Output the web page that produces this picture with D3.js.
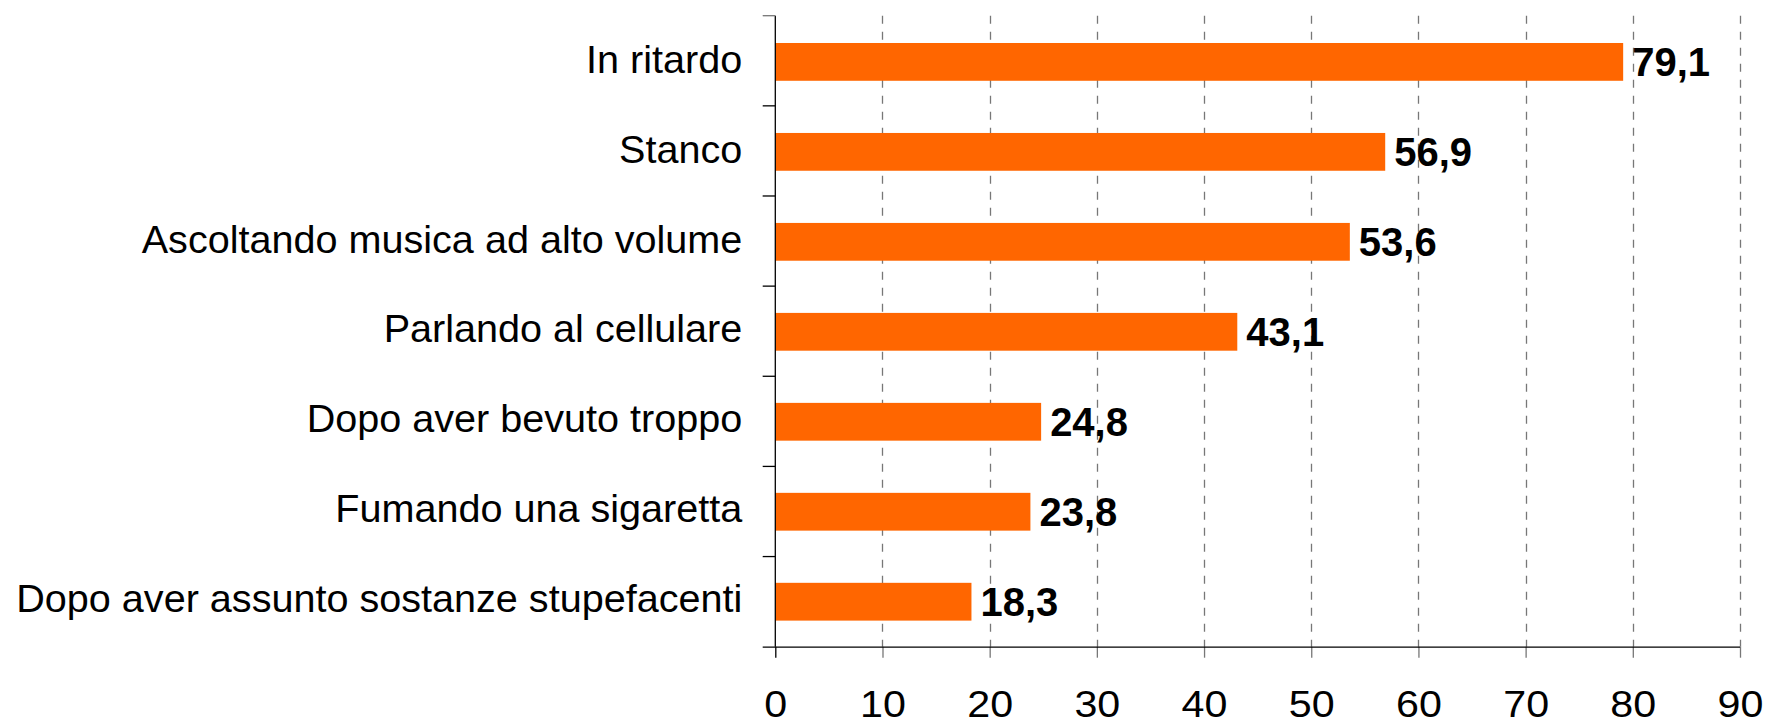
<meta charset="utf-8">
<style>
	body { margin: 0; background: #fff; }
	svg text { font-family: "Liberation Sans", Arial, sans-serif; }
</style>
<body>
<svg id="svg"></svg>
<script src="https://cdn.jsdelivr.net/npm/d3@7"></script>
<script>

// DATA
var categories = [
	"In ritardo",
	"Stanco",
	"Ascoltando musica ad alto volume",
	"Parlando al cellulare",
	"Dopo aver bevuto troppo",
	"Fumando una sigaretta",
	"Dopo aver assunto sostanze stupefacenti"
]
var values = [ 79.1, 56.9, 53.6, 43.1, 24.8, 23.8, 18.3 ]
var xTicks = [ 0, 10, 20, 30, 40, 50, 60, 70, 80, 90 ]

// CANVAS
var width = 1767
var height = 722

var svg = d3.select( '#svg' )
	.attr( 'width', width )
	.attr( 'height', height )

var top_ = 15.7, bottom = 646.7, left = 775.3, right = 1740

var x = d3.scaleLinear()
	.domain([ 0, 90 ])
	.range([ left, right ])

var y = d3.scaleBand()
	.domain( categories )
	.range([ top_ + 1.2, bottom ])
	.paddingInner( 0.58 )
	.paddingOuter( 0.29 )

var it = d3.formatLocale({ decimal: ",", thousands: ".", grouping: [3], currency: ["", "€"] })
var fmt = it.format( ".1f" )

// GRID
svg.append( 'g' )
	.selectAll( 'line' )
	.data( xTicks.filter( d => d > 0 ))
	.enter()
	.append( 'line' )
		.attr( 'x1', d => Math.round( x( d )) + 0.5 )
		.attr( 'x2', d => Math.round( x( d )) + 0.5 )
		.attr( 'y1', top_ )
		.attr( 'y2', bottom )
		.attr( 'stroke', '#777' )
		.attr( 'stroke-width', 1.3 )
		.attr( 'stroke-dasharray', '8,8' )

// BARS
svg.append( 'g' )
	.selectAll( 'rect' )
	.data( values )
	.enter()
	.append( 'rect' )
		.attr( 'x', x( 0 ))
		.attr( 'y', ( d, i ) => y( categories[ i ] ))
		.attr( 'width', d => x( d ) - x( 0 ))
		.attr( 'height', y.bandwidth() )
		.attr( 'fill', '#ff6600' )

// VALUE LABELS
svg.append( 'g' )
	.selectAll( 'text' )
	.data( values )
	.enter()
	.append( 'text' )
		.attr( 'x', d => x( d ) + 9 )
		.attr( 'y', ( d, i ) => y( categories[ i ] ) + y.bandwidth() / 2 )
		.attr( 'dy', '0.35em' )
		.style( 'font-size', '40px' )
		.style( 'font-weight', 'bold' )
		.text( d => fmt( d ))

// X AXIS
var xAxis = svg.append( 'g' )
	.attr( 'transform', 'translate(0,' + bottom + ')' )
	.call( d3.axisBottom( x )
		.tickValues( xTicks )
		.tickSize( 11 )
		.tickPadding( 32.5 )
		.tickSizeOuter( 0 )
		.tickFormat( d3.format( 'd' )))
xAxis.select( '.domain' ).remove()
xAxis.append( 'line' )
	.attr( 'x1', left - 12.6 )
	.attr( 'x2', right )
	.attr( 'y1', 0.5 )
	.attr( 'y2', 0.5 )
	.attr( 'stroke', '#000' )
	.attr( 'stroke-width', 1.3 )
xAxis.selectAll( '.tick line' )
	.attr( 'stroke', ( d ) => d == 0 ? '#000' : '#777' )
	.attr( 'stroke-width', 1.3 )
// tick labels in the original are a little wider than plain Arial
xAxis.selectAll( '.tick text' )
	.style( 'font-size', '37.5px' )
	.attr( 'fill', '#000' )
	.each( function(){
		let w = this.getComputedTextLength()
		d3.select( this )
			.attr( 'textLength', w * 1.1 )
			.attr( 'lengthAdjust', 'spacingAndGlyphs' )
	})

// Y AXIS
var yAxis = svg.append( 'g' )
yAxis.append( 'line' )
	.attr( 'x1', left )
	.attr( 'x2', left )
	.attr( 'y1', top_ )
	.attr( 'y2', bottom )
	.attr( 'stroke', '#000' )
	.attr( 'stroke-width', 1.3 )

var step = ( bottom - top_ ) / categories.length
var bounds = categories.map( ( c, i ) => top_ + i * step )
yAxis.selectAll( 'line.tick' )
	.data( bounds )
	.enter()
	.append( 'line' )
		.attr( 'class', 'tick' )
		.attr( 'x1', left - 12.6 )
		.attr( 'x2', left )
		.attr( 'y1', d => d )
		.attr( 'y2', d => d )
		.attr( 'stroke', ( d, i ) => i == 0 ? '#777' : '#000' )
		.attr( 'stroke-width', 1.3 )

yAxis.selectAll( 'text' )
	.data( categories )
	.enter()
	.append( 'text' )
		.attr( 'x', left - 33 )
		.attr( 'y', d => y( d ) + y.bandwidth() / 2 )
		.attr( 'dy', '0.27em' )
		.attr( 'text-anchor', 'end' )
		.style( 'font-size', '39.6px' )
		.text( d => d )

</script>
</body>
